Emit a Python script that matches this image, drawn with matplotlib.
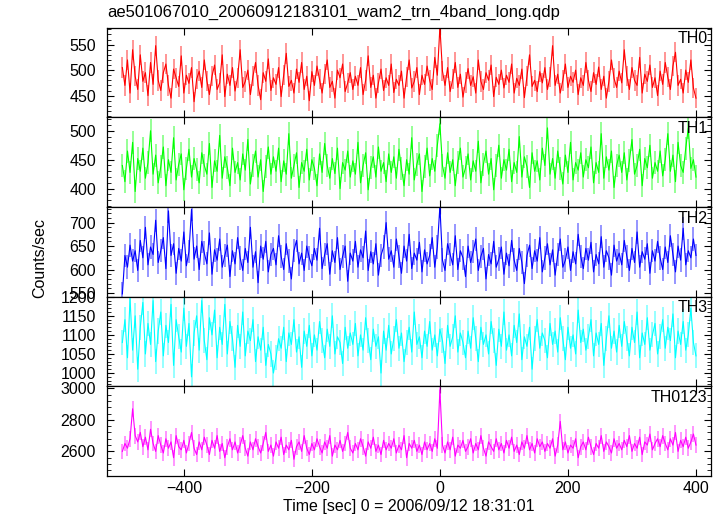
import numpy as np
import matplotlib.pyplot as plt
from matplotlib.ticker import AutoMinorLocator, MultipleLocator

plt.rcParams['font.family'] = ['Liberation Sans', 'DejaVu Sans']

title = "ae501067010_20060912183101_wam2_trn_4band_long.qdp"
xlabel = "Time [sec] 0 = 2006/09/12 18:31:01"
ylabel = "Counts/sec"
bands = ['TH0', 'TH1', 'TH2', 'TH3', 'TH0123']
colors = ['#ff0000', '#00ff00', '#0000ff', '#00ffff', '#ff00ff']

# bin centres, 4 s bins from -496 to 400 s
time = np.arange(-496, 401, 4)

th0 = [505, 470, 520, 455, 540, 488, 462, 530, 478, 495, 450, 515, 472, 548, 480,
       460, 495, 512, 470, 445, 502, 485, 468, 528, 455, 490, 474, 505, 438, 482,
       498, 466, 520, 479, 452, 488, 510, 462, 475, 530, 448, 492, 470, 505, 459,
       485, 540, 466, 478, 500, 452, 488, 515, 470, 442, 495, 478, 522, 460, 485,
       472, 505, 448, 490, 533, 468, 480, 455, 502, 476, 515, 462, 488, 440, 497,
       470, 508, 482, 455, 492, 520, 466, 478, 445, 500, 485, 512, 458, 475, 495,
       462, 488, 470, 505, 452, 480, 528, 466, 490, 445, 475, 502, 460, 485, 470,
       512, 456, 482, 470, 498, 445, 487, 520, 465, 478, 505, 452, 490, 472, 508,
       480, 462, 525, 490, 585, 498, 470, 505, 458, 482, 515, 466, 492, 447, 476,
       503, 470, 487, 455, 520, 478, 462, 495, 480, 510, 448, 486, 472, 500, 465,
       490, 476, 512, 455, 484, 470, 502, 446, 488, 530, 468, 480, 458, 497, 475,
       505, 462, 487, 548, 470, 492, 455, 480, 512, 466, 488, 476, 500, 452, 485,
       470, 515, 480, 458, 495, 472, 506, 462, 488, 445, 478, 520, 484, 466, 498,
       475, 540, 488, 462, 505, 480, 470, 525, 455, 492, 478, 510, 466, 485, 450,
       498, 472, 515, 486, 462, 508, 535, 470, 482, 455, 500, 476, 520, 465, 445]

th1 = [440, 412, 465, 428, 480, 395, 452, 430, 470, 418, 445, 500, 425, 458, 410,
       438, 472, 405, 450, 428, 488, 415, 442, 460, 398, 435, 468, 420, 452, 433,
       410, 462, 440, 425, 478, 402, 448, 430, 492, 418, 455, 436, 405, 470, 428,
       445, 415, 460, 432, 485, 408, 440, 465, 420, 450, 395, 438, 472, 425, 455,
       430, 470, 412, 448, 425, 495, 418, 440, 462, 402, 445, 430, 468, 415, 450,
       435, 405, 460, 428, 478, 440, 418, 452, 426, 470, 400, 445, 432, 465, 420,
       448, 425, 480, 410, 440, 462, 398, 436, 455, 420, 472, 430, 445, 412, 460,
       428, 455, 418, 468, 435, 405, 450, 425, 488, 415, 442, 460, 395, 438, 470,
       422, 452, 430, 475, 512, 440, 418, 462, 428, 450, 405, 445, 470, 420, 436,
       460, 415, 448, 430, 482, 410, 442, 465, 425, 452, 398, 440, 475, 418, 450,
       432, 468, 412, 445, 428, 490, 420, 455, 438, 402, 462, 430, 448, 415, 470,
       440, 505, 425, 452, 418, 465, 435, 408, 458, 428, 480, 415, 445, 432, 462,
       420, 450, 436, 472, 410, 445, 428, 495, 418, 455, 432, 465, 402, 440, 458,
       428, 462, 415, 448, 485, 425, 440, 468, 405, 452, 436, 475, 418, 445, 430,
       465, 422, 450, 495, 430, 458, 412, 480, 440, 428, 470, 505, 435, 450, 420]

th2 = [548, 630, 605, 652, 618, 640, 598, 662, 625, 690, 610, 648, 632, 705, 615,
       640, 668, 602, 725, 630, 655, 592, 645, 618, 680, 608, 638, 728, 622, 650,
       600, 660, 635, 612, 678, 590, 642, 620, 665, 605, 630, 652, 585, 640, 612,
       668, 625, 598, 645, 615, 690, 605, 638, 572, 650, 622, 660, 595, 632, 645,
       610, 672, 628, 600, 655, 618, 580, 640, 662, 612, 635, 598, 650, 625, 608,
       645, 620, 688, 602, 632, 655, 590, 640, 615, 668, 600, 628, 650, 575, 635,
       618, 660, 605, 642, 625, 682, 598, 638, 612, 655, 588, 630, 648, 700, 622,
       640, 605, 665, 628, 592, 650, 618, 675, 602, 635, 620, 658, 595, 642, 612,
       630, 668, 605, 648, 735, 620, 598, 655, 632, 610, 672, 600, 640, 625, 585,
       650, 615, 638, 665, 598, 628, 645, 580, 632, 612, 660, 605, 622, 648, 590,
       635, 608, 662, 620, 598, 645, 615, 570, 630, 652, 602, 640, 618, 668, 595,
       625, 655, 610, 642, 588, 632, 665, 605, 620, 648, 598, 638, 612, 675, 628,
       602, 645, 620, 658, 595, 632, 612, 670, 605, 640, 625, 588, 652, 618, 635,
       610, 662, 628, 598, 645, 615, 680, 605, 638, 622, 655, 592, 640, 618, 660,
       625, 600, 648, 615, 672, 632, 595, 650, 620, 688, 610, 640, 625, 665, 630]

th3 = [1080, 1140, 1040, 1195, 1060, 1150, 1010, 1120, 1185, 1050, 1130, 1075, 1190, 1030, 1110,
       1160, 1045, 1125, 1080, 1180, 1020, 1140, 1095, 1055, 1170, 1070, 1130, 990, 1105, 1150,
       1060, 1190, 1085, 1035, 1145, 1100, 1165, 1040, 1120, 1075, 1180, 1050, 1135, 1090, 1015,
       1125, 1070, 1160, 1045, 1110, 1085, 1140, 1030, 1095, 1060, 1120, 1020, 1075, 1050, 1000,
       1040, 1090, 1065, 1120, 1030, 1105, 1075, 1140, 1055, 1095, 1015, 1110, 1070, 1125, 1045,
       1100, 1060, 1135, 1085, 1040, 1115, 1070, 1150, 1050, 1095, 1080, 1025, 1120, 1065, 1105,
       1075, 1130, 1045, 1100, 1060, 1145, 1085, 1035, 1115, 1070, 1095, 1000, 1110, 1060, 1125,
       1050, 1090, 1140, 1065, 1105, 1030, 1080, 1120, 1055, 1160, 1075, 1095, 1040, 1110, 1070,
       1135, 1060, 1100, 1045, 1115, 1085, 1025, 1125, 1070, 1095, 1150, 1055, 1105, 1080, 1040,
       1110, 1065, 1145, 1090, 1030, 1120, 1075, 1100, 1050, 1135, 1085, 1020, 1115, 1070, 1160,
       1060, 1100, 1045, 1125, 1080, 1155, 1035, 1095, 1070, 1120, 1010, 1090, 1140, 1065, 1105,
       1085, 1040, 1130, 1075, 1110, 1055, 1145, 1090, 1035, 1120, 1065, 1100, 1050, 1165, 1080,
       1115, 1060, 1095, 1140, 1045, 1105, 1075, 1130, 1020, 1090, 1150, 1065, 1110, 1055, 1125,
       1070, 1135, 1090, 1045, 1120, 1080, 1160, 1040, 1105, 1075, 1145, 1060, 1100, 1130, 1050,
       1095, 1140, 1065, 1120, 1085, 1155, 1040, 1110, 1075, 1135, 1060, 1100, 1170, 1080, 1045]

th0123 = [2600, 2650, 2620, 2680, 2870, 2700, 2660, 2720, 2630, 2690, 2610, 2740, 2650, 2600, 2700,
          2640, 2590, 2680, 2620, 2660, 2560, 2700, 2630, 2610, 2670, 2590, 2650, 2720, 2620, 2580,
          2660, 2610, 2690, 2640, 2580, 2670, 2620, 2700, 2600, 2650, 2560, 2630, 2680, 2610, 2660,
          2590, 2640, 2700, 2620, 2570, 2660, 2610, 2680, 2630, 2590, 2650, 2720, 2600, 2640, 2570,
          2660, 2620, 2690, 2580, 2640, 2610, 2670, 2550, 2630, 2660, 2600, 2700, 2620, 2580, 2650,
          2610, 2680, 2630, 2590, 2660, 2620, 2700, 2570, 2640, 2610, 2670, 2600, 2650, 2720, 2620,
          2590, 2650, 2610, 2680, 2630, 2570, 2660, 2620, 2690, 2600, 2640, 2580, 2670, 2610, 2650,
          2620, 2680, 2590, 2640, 2610, 2700, 2560, 2650, 2620, 2670, 2600, 2640, 2580, 2660, 2610,
          2650, 2600, 2680, 2620, 2990, 2640, 2590, 2660, 2610, 2690, 2570, 2640, 2620, 2670, 2600,
          2630, 2680, 2590, 2650, 2610, 2700, 2620, 2570, 2660, 2630, 2600, 2680, 2610, 2650, 2590,
          2670, 2620, 2690, 2600, 2640, 2580, 2660, 2620, 2700, 2610, 2650, 2590, 2680, 2630, 2660,
          2600, 2650, 2620, 2680, 2570, 2640, 2790, 2610, 2660, 2590, 2640, 2620, 2680, 2560, 2630,
          2660, 2610, 2690, 2630, 2580, 2650, 2620, 2700, 2600, 2660, 2630, 2590, 2680, 2620, 2650,
          2610, 2670, 2630, 2700, 2600, 2650, 2620, 2690, 2580, 2660, 2640, 2710, 2610, 2650, 2680,
          2630, 2700, 2650, 2610, 2680, 2640, 2720, 2600, 2670, 2630, 2690, 2620, 2660, 2710, 2640]

series = [th0, th1, th2, th3, th0123]
errors = [20, 20, 25, 33, 50]
ylims = [(407, 583), (368, 523), (542, 733), (965, 1200), (2444, 3012)]
major = [50, 50, 50, 50, 200]

fig = plt.figure(figsize=(7.23, 5.16), dpi=100)
gs = fig.add_gridspec(5, 1, left=0.148, right=0.983, top=0.946, bottom=0.0775, hspace=0)
axes = [fig.add_subplot(gs[i]) for i in range(5)]

for i, ax in enumerate(axes):
    v = np.array(series[i], dtype=float)
    ax.vlines(time, v - errors[i], v + errors[i], color=colors[i], alpha=0.45, lw=1.3)
    ax.plot(time, v, color=colors[i], lw=0.8)
    ax.set_xlim(-520, 423)
    ax.set_ylim(*ylims[i])
    ax.xaxis.set_major_locator(MultipleLocator(200))
    ax.yaxis.set_major_locator(MultipleLocator(major[i]))
    ax.yaxis.set_minor_locator(AutoMinorLocator(5))
    ax.tick_params(which='both', direction='in', top=True, right=True, labelsize=11.5)
    ax.tick_params(which='major', length=5)
    ax.tick_params(which='minor', length=3)
    ax.tick_params(axis='y', pad=8)
    for s in ax.spines.values():
        s.set_linewidth(0.9)
    ax.text(0.995, 0.96, bands[i], transform=ax.transAxes, ha='right', va='top', fontsize=11.5)
    if i < 4:
        ax.tick_params(labelbottom=False)

axes[-1].set_xlabel(xlabel, fontsize=11.5, labelpad=2)
fig.text(0.148, 0.962, title, ha='left', va='bottom', fontsize=12)
fig.text(0.055, 0.5, ylabel, rotation=90, ha='center', va='center', fontsize=11.5)

plt.savefig('out.png', dpi=100)
